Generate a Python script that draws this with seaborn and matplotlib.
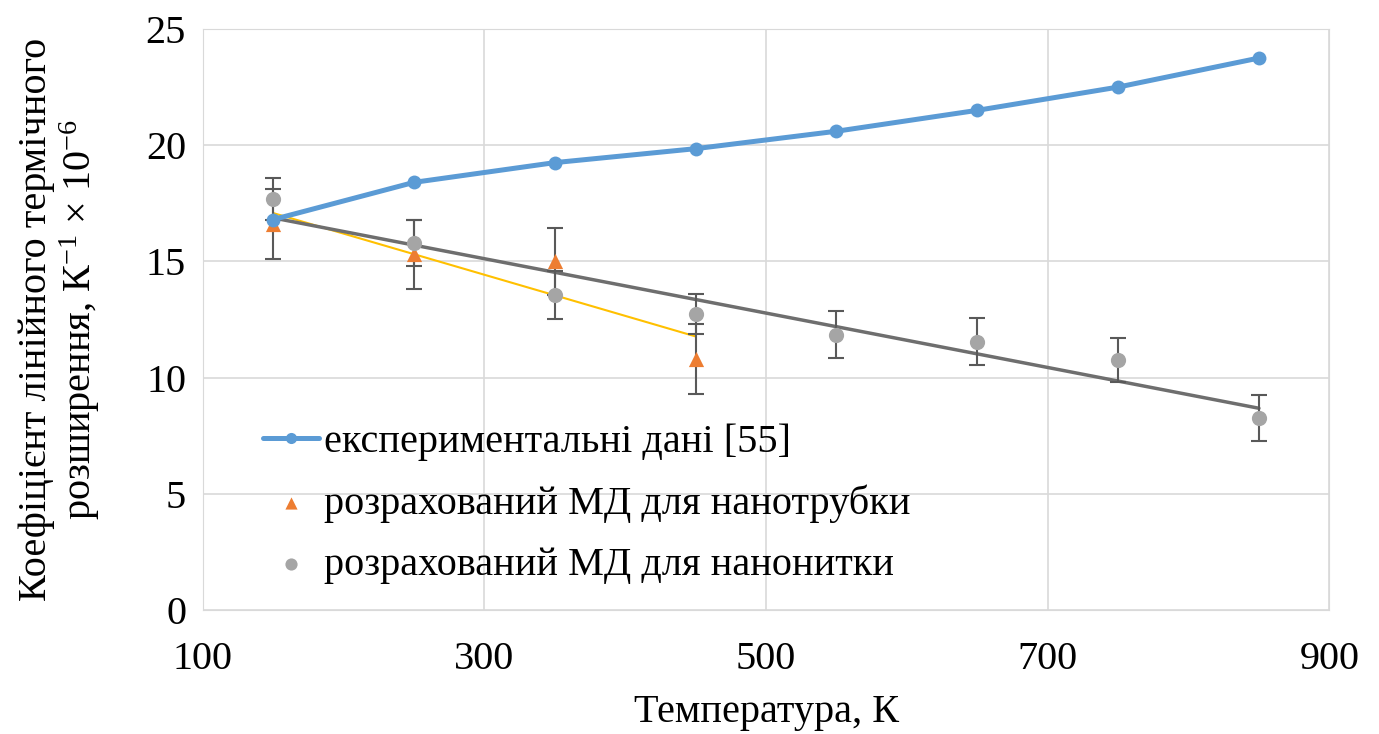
import numpy as np
import pandas as pd
import matplotlib
matplotlib.use("Agg")
import matplotlib.pyplot as plt
import seaborn as sns

# temperatures, K
temp = [150, 250, 350, 450, 550, 650, 750, 850]
# experimental data [55]
exp_vals = [16.8, 18.4, 19.25, 19.85, 20.6, 21.5, 22.5, 23.75]
# MD, nanotube
tube_temp = [150, 250, 350, 450]
tube_vals = [16.6, 15.3, 15.0, 10.8]
tube_err = [1.5, 1.5, 1.45, 1.5]
# MD, nanowire
wire_vals = [17.7, 15.8, 13.55, 12.75, 11.85, 11.55, 10.75, 8.25]
wire_err = [0.9, 1.0, 1.05, 0.86, 1.0, 1.0, 0.95, 1.0]

labels = ["експериментальні дані [55]",
          "розрахований МД для нанотрубки",
          "розрахований МД для нанонитки"]

sns.set_style("whitegrid")
plt.rcParams['font.family'] = ['Liberation Serif', 'DejaVu Serif']
plt.rcParams['mathtext.fontset'] = 'custom'
plt.rcParams['mathtext.rm'] = 'Liberation Serif'
plt.rcParams['text.color'] = 'black'
plt.rcParams['axes.labelcolor'] = 'black'
plt.rcParams['xtick.color'] = 'black'
plt.rcParams['ytick.color'] = 'black'

fig = plt.figure(figsize=(13.79, 7.34), dpi=100)
ax = fig.add_axes([0.147, 0.169, 0.817, 0.7915])

df_exp = pd.DataFrame({"T": temp, "a": exp_vals})
df_tube = pd.DataFrame({"T": tube_temp, "a": tube_vals})
df_wire = pd.DataFrame({"T": temp, "a": wire_vals})

# linear trend lines
sns.regplot(data=df_tube, x="T", y="a", ax=ax, scatter=False, ci=None,
            truncate=True, line_kws=dict(color="#FFC000", lw=1.5, zorder=2))
sns.regplot(data=df_wire, x="T", y="a", ax=ax, scatter=False, ci=None,
            truncate=True, line_kws=dict(color="#6E6E6E", lw=2.5, zorder=2))

# error bars
ax.errorbar(tube_temp, tube_vals, yerr=tube_err, fmt="none", ecolor="#595959",
            elinewidth=1.5, capsize=6, capthick=1.5, zorder=3)
ax.errorbar(temp, wire_vals, yerr=wire_err, fmt="none", ecolor="#595959",
            elinewidth=1.5, capsize=6, capthick=1.5, zorder=3)

sns.lineplot(data=df_exp, x="T", y="a", ax=ax, color="#5B9BD5", lw=3.6,
             marker="o", markersize=10, markeredgewidth=0, label=labels[0], zorder=5)
sns.scatterplot(data=df_tube, x="T", y="a", ax=ax, color="#ED7D31", marker="^",
                s=120, linewidth=0, label=labels[1], zorder=4)
sns.scatterplot(data=df_wire, x="T", y="a", ax=ax, color="#A5A5A5", marker="o",
                s=120, linewidth=0, label=labels[2], zorder=4)

ax.set_xlim(100, 900)
ax.set_ylim(0, 25)
ax.set_xticks([100, 300, 500, 700, 900])
ax.set_yticks([0, 5, 10, 15, 20, 25])
ax.grid(True, color="#D9D9D9", lw=1.2)
for s in ax.spines.values():
    s.set_color("#D9D9D9")
ax.tick_params(axis="both", labelsize=29, length=0)
ax.tick_params(axis="x", pad=22)
ax.tick_params(axis="y", pad=12)

ax.set_xlabel("Температура, К", fontsize=29)
ax.xaxis.set_label_coords(0.5, -0.145)
ax.set_ylabel("Коефіцієнт лінійного термічного\n"
              "розширення, К$\\mathregular{^{-1}}$ × 10$\\mathregular{^{-6}}$",
              fontsize=29, linespacing=1.08)
ax.yaxis.set_label_coords(-0.089, 0.5)

leg = ax.legend(loc="lower left", bbox_to_anchor=(0.021, -0.017), frameon=False,
                fontsize=29, handlelength=1.4, handletextpad=0.12, labelspacing=0.58,
                markerscale=0.8, borderpad=0.4)

fig.savefig("out.png", dpi=100)
